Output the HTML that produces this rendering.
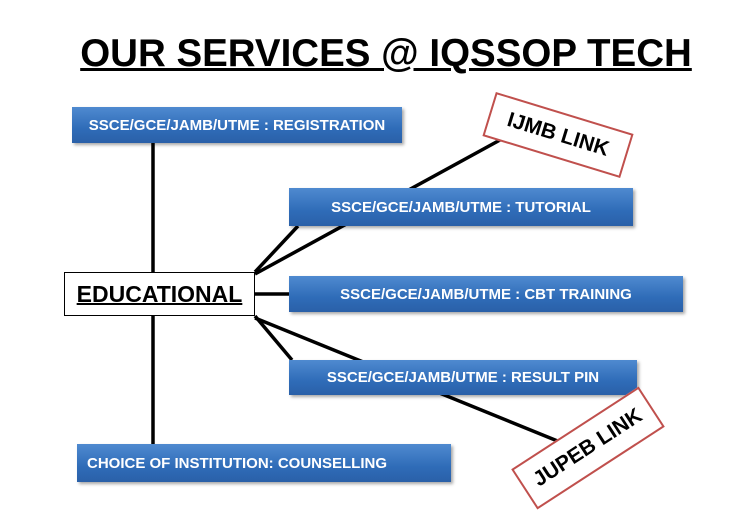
<!DOCTYPE html>
<html><head><style>
body{margin:0;width:756px;height:527px;background:#fff;position:relative;overflow:hidden;font-family:"Liberation Sans",sans-serif}
.t{position:absolute;left:0;width:772px;top:32px;text-align:center;font-weight:bold;font-size:38.5px;text-decoration:underline;text-decoration-thickness:3px;white-space:nowrap}
.b{position:absolute;background:linear-gradient(#4f8ad0,#2f6cb8 60%,#2a60a8);color:#fff;font-weight:bold;font-size:15px;display:flex;align-items:center;justify-content:center;box-shadow:2px 2px 3px rgba(0,0,0,.35)}
.r{position:absolute;border:2px solid #c0504d;background:#fff;font-weight:bold;font-size:21px;display:flex;align-items:center;justify-content:center}
</style></head><body>
<div class="t">OUR SERVICES @ IQSSOP TECH</div>
<svg style="position:absolute;left:0;top:0" width="756" height="527">
<g stroke="#000" stroke-width="3.5" fill="none">
<line x1="153" y1="143" x2="153" y2="272"/>
<line x1="153" y1="316" x2="153" y2="444"/>
<line x1="255" y1="272" x2="298" y2="226"/>
<line x1="255" y1="274" x2="500" y2="140"/>
<line x1="255" y1="294" x2="289" y2="294"/>
<line x1="255" y1="316" x2="292" y2="360"/>
<line x1="255" y1="318" x2="560" y2="442"/>
</g></svg>
<div class="b" style="left:72px;top:107px;width:330px;height:36px">SSCE/GCE/JAMB/UTME : REGISTRATION</div>
<div class="b" style="left:289px;top:188px;width:344px;height:38px">SSCE/GCE/JAMB/UTME : TUTORIAL</div>
<div class="b" style="left:289px;top:276px;width:394px;height:36px">SSCE/GCE/JAMB/UTME : CBT TRAINING</div>
<div class="b" style="left:289px;top:360px;width:348px;height:35px">SSCE/GCE/JAMB/UTME : RESULT PIN</div>
<div class="b" style="left:77px;top:444px;width:374px;height:38px;justify-content:flex-start;padding-left:10px;box-sizing:border-box">CHOICE OF INSTITUTION: COUNSELLING</div>
<div style="position:absolute;left:64px;top:272px;width:189px;height:42px;border:1px solid #000;background:#fff;display:flex;align-items:center;justify-content:center;font-weight:bold;font-size:23px;text-decoration:underline;text-decoration-thickness:2px">EDUCATIONAL</div>
<div class="r" style="left:486px;top:112px;width:140px;height:42px;transform:rotate(17deg)">IJMB LINK</div>
<div class="r" style="left:512px;top:424px;width:148px;height:44px;transform:rotate(-33deg)">JUPEB LINK</div>
</body></html>
